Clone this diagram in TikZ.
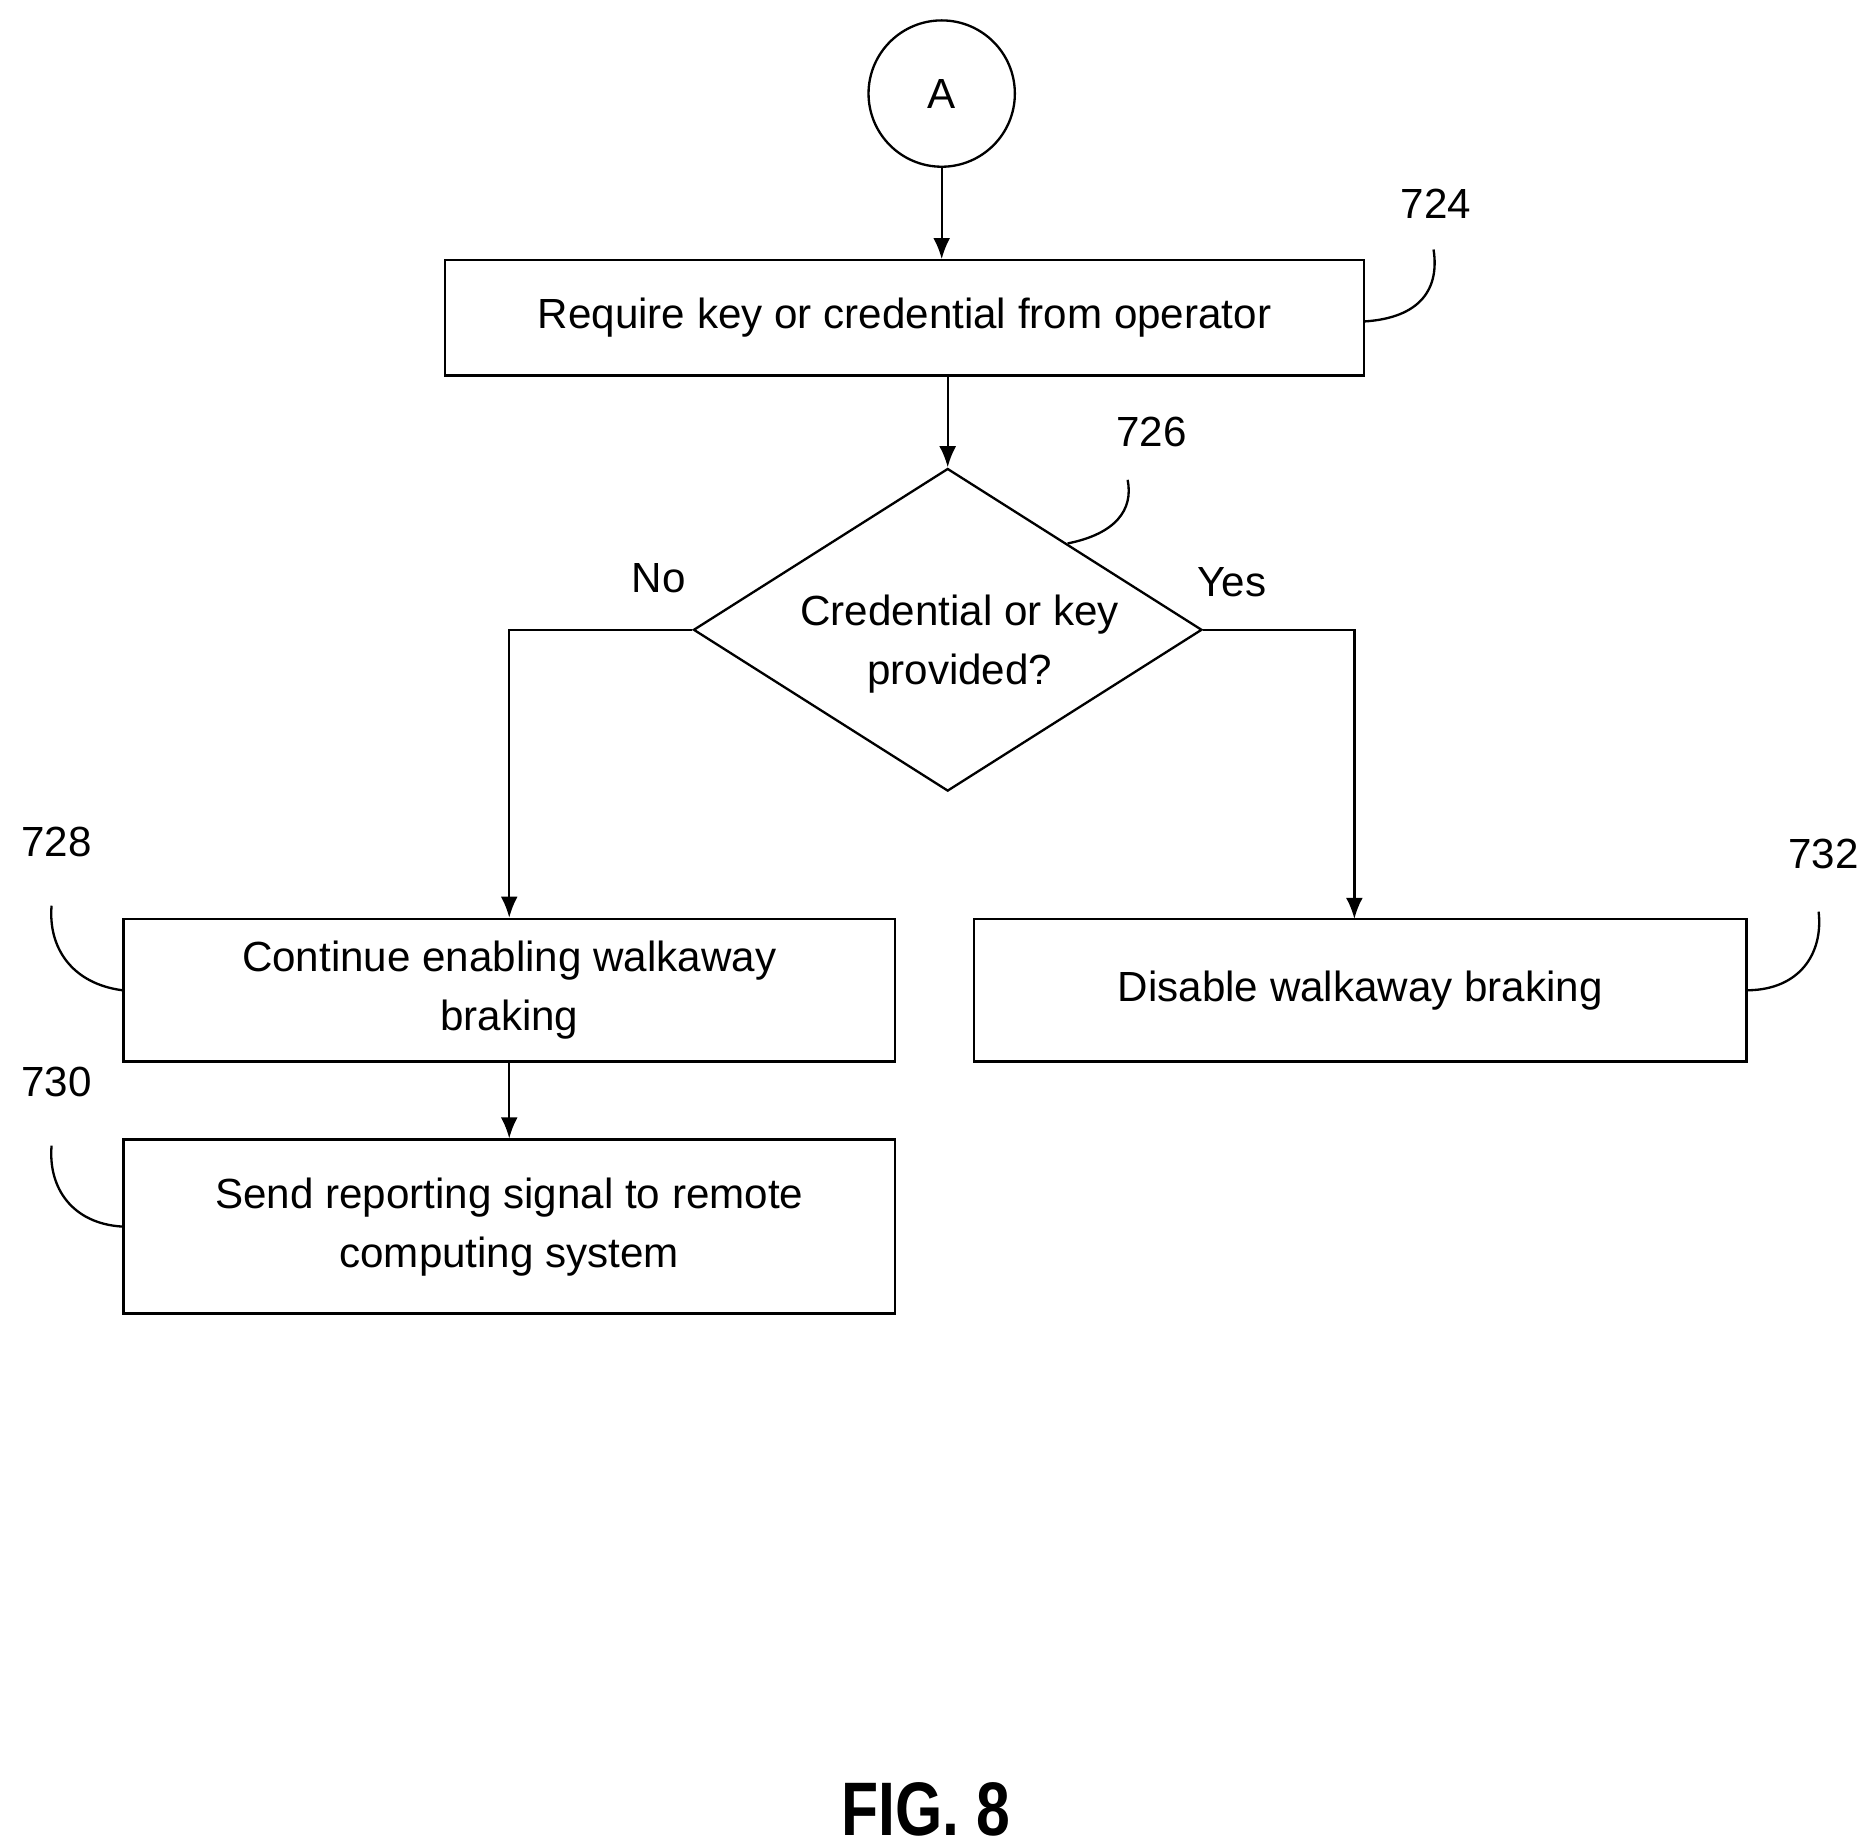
\documentclass[tikz,border=0pt]{standalone}
\usepackage{fontspec}
\setmainfont{Liberation Sans}
\usetikzlibrary{shapes.geometric,arrows.meta}
\tikzset{
  box/.style={draw, line width=1.1pt, align=center, inner sep=0pt},
  flow/.style={-{Latex[length=10pt,width=8pt]}, line width=1.1pt},
  lead/.style={line width=1.1pt},
  ref/.style={font=\fontsize{20}{24}\selectfont},
}
\begin{document}
\begin{tikzpicture}[x=0.02cm, y=-0.02cm, font=\fontsize{20}{28}\selectfont]
        \useasboundingbox (0,0) rectangle (1563,1540);
        % Connector and process boxes
        \node[draw, circle, line width=1.1pt, minimum size=2.44cm, inner sep=0pt] (A) at (785,78) {A};
        \node[box, minimum width=15.32cm, minimum height=1.92cm] (require) at (754,265) {Require key or credential from operator};
        \node[box, diamond, minimum width=8.48cm, minimum height=5.38cm] (check) at (790,525) {};
        \node[align=center] (checktext) at (800,537) {Credential or key\\provided?};
        \node[box, minimum width=12.86cm, minimum height=2.38cm] (enable) at (424.5,825.5) {Continue enabling walkaway\\braking};
        \node[box, minimum width=12.86cm, minimum height=2.9cm] (report) at (424.5,1022.5) {Send reporting signal to remote\\computing system};
        \node[box, minimum width=12.88cm, minimum height=2.38cm] (disable) at (1134,825.5) {Disable walkaway braking};
        % Flow
        \draw[flow] (A.south) -- (A.south |- require.north);
        \draw[flow] (790,313) -- (check.north);
        \draw[flow] (check.west) -| (enable.north);
        \draw[flow] (check.east) -| (1129,766);
        \draw[flow] (enable.south) -- (report.north);
        \node (no) at (549,482) {No};
        \node (yes) at (1027,485) {Yes};
        % Reference numerals
        \node[ref] (n724) at (1197,170) {724};
        \node[ref] (n726) at (960,360) {726};
        \node[ref] (n728) at (47,702) {728};
        \node[ref] (n730) at (47,902) {730};
        \node[ref] (n732) at (1520,712) {732};
        \draw[lead] (1137,268) .. controls (1185,265) and (1200,240) .. (1195,208);
        \draw[lead] (890,453) .. controls (930,445) and (945,425) .. (940,400);
        \draw[lead] (enable.west) .. controls (60,820) and (40,790) .. (43,755);
        \draw[lead] (report.west) .. controls (60,1020) and (40,990) .. (43,955);
        \draw[lead] (disable.east) .. controls (1500,825) and (1520,795) .. (1516,760);
        % Figure title
        \node[font=\bfseries\fontsize{36}{40}\selectfont, xscale=0.8] (fig) at (772,1508) {FIG. 8};
      \end{tikzpicture}
\end{document}
